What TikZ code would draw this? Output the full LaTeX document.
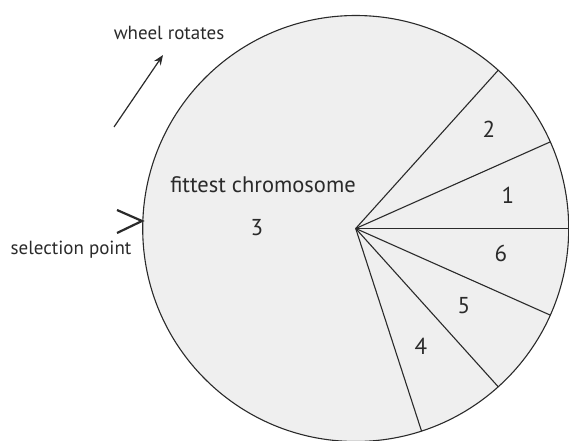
\documentclass[tikz,border=0pt]{standalone}
\usepackage{fontspec}
\setmainfont{PT Sans}
\usetikzlibrary{arrows.meta,calc}
\definecolor{wheelfill}{HTML}{EFEFEF}
\definecolor{ink}{HTML}{2A2A2A}
\begin{document}
\begin{tikzpicture}[x=1pt,y=1pt,
  lbl/.style={text=ink,inner sep=0pt,font=\fontsize{19}{21}\selectfont},
  num/.style={text=ink,inner sep=0pt,font=\fontsize{23}{25}\selectfont},
  spoke/.style={draw=ink,line width=1.1pt}]
\useasboundingbox (0,0) rectangle (569,440);
\coordinate (c) at (355.7,211.5);
\fill[wheelfill] (c) circle (213);
\draw[ink,line width=1.1pt] (c) circle (213);
\foreach \a/\n in {48/p1,24/p2,0/p3,-24/p4,-48/p5,-72/p6}{
  \coordinate (\n) at ($(c)+(\a:213)$);
}
\draw[spoke] (c) -- (p1);
\draw[spoke] (c) -- (p2);
\draw[spoke,line width=1pt] (c) -- (p3);
\draw[spoke] (c) -- (p4);
\draw[spoke] (c) -- (p5);
\draw[spoke] (c) -- (p6);
\node[num] (n2) at (489,311) {2};
\node[num] (n1) at (508,245) {1};
\node[num] (n6) at (501,187) {6};
\node[num] (n5) at (464,134) {5};
\node[num] (n4) at (421,94) {4};
\node[num] (n3) at (257,212) {3};
\node[lbl,font=\fontsize{22.5}{24}\selectfont] (fit) at (263,255) {fittest chromosome};
\node[lbl] (wr) at (169,407) {wheel rotates};
\node[lbl] (sp) at (71,190) {selection point};
\coordinate (a0) at (114,313);
\coordinate (a1) at (163,385);
\draw[ink,line width=1.2pt,-{Stealth[length=10pt,width=8pt]}] (a0) -- (a1);
\coordinate (v1) at (117,230);
\coordinate (v2) at (142,219);
\coordinate (v3) at (117,207);
\draw[ink,line width=2.2pt,miter limit=10] (v1) -- (v2) -- (v3);
\end{tikzpicture}
\end{document}
